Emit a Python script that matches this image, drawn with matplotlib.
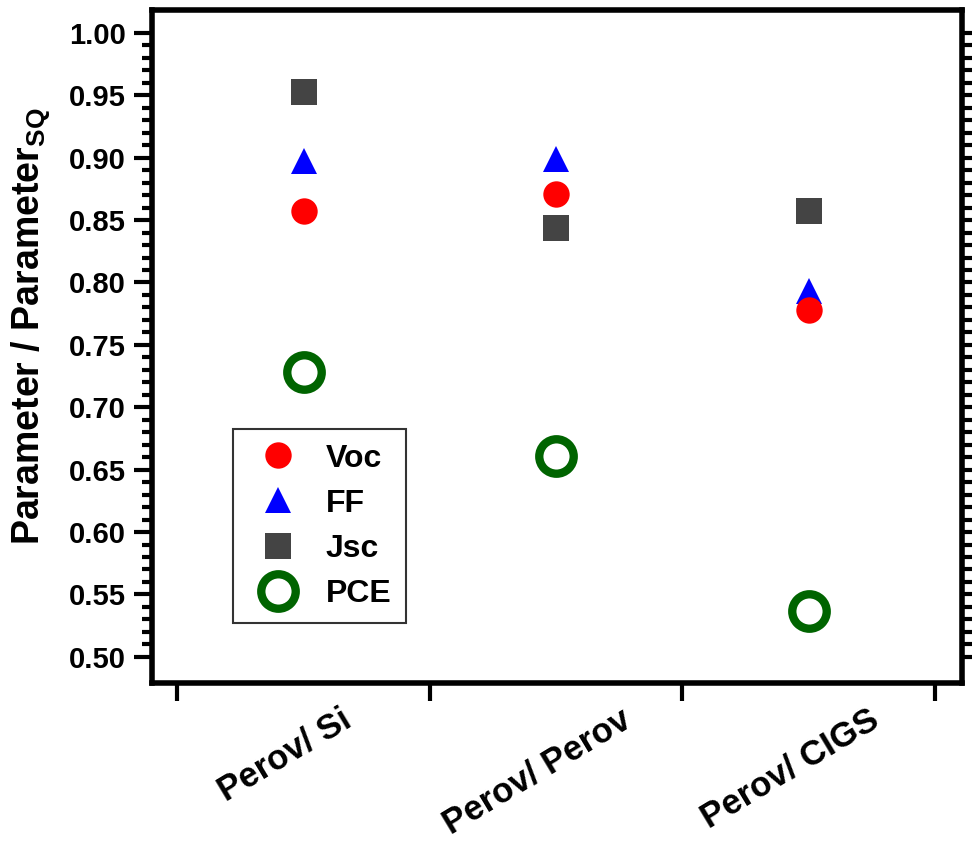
import matplotlib
matplotlib.use("Agg")
import matplotlib.pyplot as plt
import matplotlib.transforms as mtransforms
from matplotlib.ticker import FixedLocator, FormatStrFormatter
import numpy as np

# tandem architectures and their parameters normalised to the SQ limit
devices = ["Perov/ Si", "Perov/ Perov", "Perov/ CIGS"]
voc = [0.857, 0.871, 0.778]
ff = [0.897, 0.899, 0.793]
jsc = [0.953, 0.844, 0.857]
pce = [0.728, 0.661, 0.537]

plt.rcParams["font.family"] = ["Liberation Sans", "DejaVu Sans"]
plt.rcParams["font.weight"] = "bold"
plt.rcParams["mathtext.fontset"] = "custom"
plt.rcParams["mathtext.rm"] = "Liberation Sans:bold"
plt.rcParams["mathtext.default"] = "regular"

fig = plt.figure(figsize=(9.72, 8.41), dpi=100)
ax = fig.add_axes([152 / 972, 1 - 683 / 841, 810 / 972, 673 / 841])

x = np.arange(len(devices))
h_ff, = ax.plot(x, ff, "^", color="#0000ff", ms=19, mew=0, label="FF")
h_voc, = ax.plot(x, voc, "o", color="#ff0000", ms=19, mew=0, label="Voc")
h_jsc, = ax.plot(x, jsc, "s", color="#444444", ms=19, mew=0, label="Jsc")
h_pce, = ax.plot(x, pce, "o", mfc="white", mec="#006400", ms=24.8, mew=6,
                 label="PCE")

ax.set_xlim(-0.6, 2.607)
ax.set_ylim(0.479, 1.0184)

# y axis: labelled ticks every 0.05, small ticks every 0.01, mirrored on the right
ax.yaxis.set_major_locator(FixedLocator(np.round(np.arange(0.50, 1.001, 0.05), 2)))
ax.yaxis.set_minor_locator(FixedLocator(np.round(np.arange(0.50, 1.001, 0.01), 2)))
ax.yaxis.set_major_formatter(FormatStrFormatter("%.2f"))
ax.tick_params(axis="y", which="major", direction="out", length=13, width=3,
               labelsize=21, pad=6, right=True)
ax.tick_params(axis="y", which="minor", direction="out", length=7, width=3,
               right=True)

# x axis: category names centred, tick marks between categories
ax.set_xticks(x)
ax.set_xticklabels(devices, rotation=31, ha="center", fontsize=25,
                   fontweight="bold")
ax.xaxis.set_minor_locator(FixedLocator([-0.5, 0.5, 1.5, 2.5]))
ax.tick_params(axis="x", which="major", length=0, pad=14)
ax.tick_params(axis="x", which="minor", direction="out", length=13, width=3)
shift = mtransforms.ScaledTranslation(-0.19, 0, fig.dpi_scale_trans)
for lab in ax.get_xticklabels():
    lab.set_transform(lab.get_transform() + shift)

for side in ["left", "right", "top", "bottom"]:
    ax.spines[side].set_linewidth(4)

ax.set_ylabel("Parameter / Parameter$_{SQ}$", fontsize=27, fontweight="bold")
ax.yaxis.set_label_coords(-0.124, 0.53)

leg = ax.legend(handles=[h_voc, h_ff, h_jsc, h_pce], loc="upper left",
                bbox_to_anchor=(0.1, 0.377), borderaxespad=0, numpoints=1,
                fancybox=False, framealpha=1, edgecolor="#333333",
                prop={"size": 23, "weight": "bold"}, borderpad=0.45,
                handlelength=1.9, handletextpad=0.56, labelspacing=0.47)
leg.get_frame().set_linewidth(1.5)

fig.savefig("out.png", dpi=100)
